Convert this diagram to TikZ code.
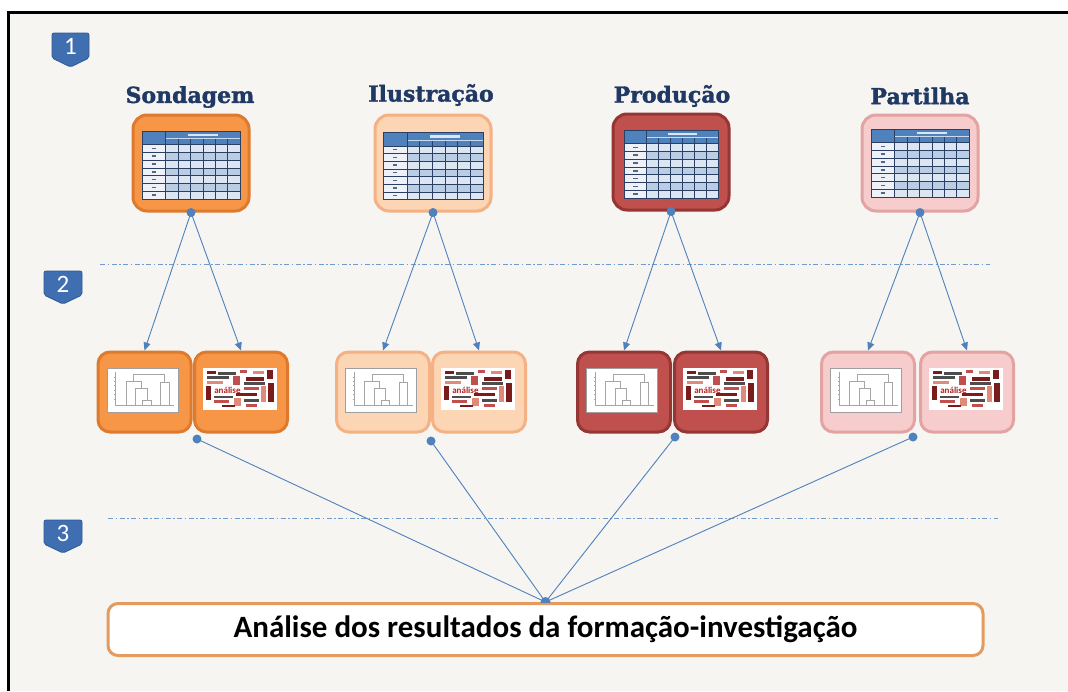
\documentclass[tikz,border=0pt]{standalone}
\usepackage{fontspec}
\setmainfont{Carlito}
\newfontfamily\titlefont{DejaVu Serif}[BoldFeatures={FakeBold=1.6}]
\usetikzlibrary{arrows.meta,shapes.geometric}
\definecolor{bgc}{HTML}{F6F5F1}
\definecolor{lineblue}{HTML}{4F81BD}
\definecolor{badgeblue}{HTML}{3F6FB1}
\definecolor{badgeedge}{HTML}{2E5A94}
\definecolor{titlec}{HTML}{1F3864}
\definecolor{sFill}{HTML}{F79646}\definecolor{sDraw}{HTML}{DE7A2E}
\definecolor{iFill}{HTML}{FCD5B5}\definecolor{iDraw}{HTML}{F4B183}
\definecolor{pFill}{HTML}{C0504D}\definecolor{pDraw}{HTML}{943634}
\definecolor{paFill}{HTML}{F6CDCC}\definecolor{paDraw}{HTML}{E2A3A2}
\definecolor{finalDraw}{HTML}{E59B5E}
\definecolor{hdrblue}{HTML}{4F81BD}
\definecolor{rowA}{HTML}{DCE6F2}
\definecolor{rowB}{HTML}{B9CDE5}
\definecolor{colA}{HTML}{EEF2F8}
\definecolor{gridc}{HTML}{2B3F63}
\definecolor{wcA}{HTML}{7B1C1C}
\definecolor{wcB}{HTML}{4D4D4D}
\definecolor{wcC}{HTML}{C0504D}
\definecolor{wcD}{HTML}{E08A7A}
\definecolor{wcE}{HTML}{B22222}

\newcommand\tabimg[4]{%
\begin{scope}[shift={({#1-#3/2},{#2-#4/2})}]
\pgfmathsetmacro\tw{#3}\pgfmathsetmacro\th{#4}%
\pgfmathsetmacro\hA{0.11*\th}\pgfmathsetmacro\hB{0.09*\th}%
\pgfmathsetmacro\rh{(\th-\hA-\hB)/7}%
\pgfmathsetmacro\cA{0.24*\tw}\pgfmathsetmacro\cw{(\tw-\cA)/6}%
\fill[white] (0,0) rectangle (\tw,\th);
\fill[hdrblue] (0,0) rectangle (\tw,\hA+\hB);
\foreach \r in {0,...,6}{%
  \pgfmathsetmacro\yy{\hA+\hB+\r*\rh}%
  \pgfmathtruncatemacro\odd{mod(\r,2)}%
  \ifnum\odd=0 \fill[rowA] (\cA,\yy) rectangle (\tw,\yy+\rh);\else\fill[rowB] (\cA,\yy) rectangle (\tw,\yy+\rh);\fi
  \fill[colA] (0,\yy) rectangle (\cA,\yy+\rh);
  \fill[gridc!80] ({\cA*0.42},{\yy+\rh*0.4}) rectangle ({\cA*0.6},{\yy+\rh*0.6});
  \draw[gridc,line width=0.4pt] (0,\yy) -- (\tw,\yy);
}
\foreach \c in {1,...,5}{\draw[gridc,line width=0.4pt] ({\cA+\c*\cw},\hA) -- ({\cA+\c*\cw},\th);}
\draw[white!70!hdrblue,line width=0.4pt] (\cA,\hA) -- (\tw,\hA);
\fill[white!80!hdrblue] ({\cA+0.3*(\tw-\cA)},{0.4*\hA}) rectangle ({\cA+0.7*(\tw-\cA)},{0.7*\hA});
\draw[gridc,line width=0.5pt] (\cA,0) -- (\cA,\th);
\draw[gridc,line width=0.6pt] (0,0) rectangle (\tw,\th);
\end{scope}}

\newcommand\dendimg[4]{%
\begin{scope}[shift={({#1-#3/2},{#2-#4/2})}]
\pgfmathsetmacro\dw{#3}\pgfmathsetmacro\dh{#4}%
\fill[white] (0,0) rectangle (\dw,\dh);
\draw[gray!75,line width=1pt] (0,0) rectangle (\dw,\dh);
\begin{scope}[gray!70,line width=0.5pt]
\draw ({0.12*\dw},{0.08*\dh}) -- ({0.12*\dw},{0.85*\dh}) -- ({0.95*\dw},{0.85*\dh});
\draw ({0.50*\dw},{0.85*\dh}) -- ({0.50*\dw},{0.74*\dh}) -- ({0.62*\dw},{0.74*\dh}) -- ({0.62*\dw},{0.85*\dh});
\draw ({0.40*\dw},{0.85*\dh}) -- ({0.40*\dw},{0.45*\dh}) -- ({0.56*\dw},{0.45*\dh}) -- ({0.56*\dw},{0.74*\dh});
\draw ({0.27*\dw},{0.85*\dh}) -- ({0.27*\dw},{0.30*\dh}) -- ({0.48*\dw},{0.30*\dh}) -- ({0.48*\dw},{0.45*\dh});
\draw ({0.75*\dw},{0.85*\dh}) -- ({0.75*\dw},{0.32*\dh}) -- ({0.87*\dw},{0.32*\dh}) -- ({0.87*\dw},{0.85*\dh});
\draw ({0.37*\dw},{0.30*\dh}) -- ({0.37*\dw},{0.14*\dh}) -- ({0.81*\dw},{0.14*\dh}) -- ({0.81*\dw},{0.32*\dh});
\foreach \t in {0.2,0.3,0.4,0.5,0.6,0.7}{\draw ({0.10*\dw},{\t*\dh}) -- ({0.12*\dw},{\t*\dh});}
\end{scope}
\end{scope}}

\newcommand\wordimg[4]{%
\begin{scope}[shift={({#1-#3/2},{#2-#4/2})}]
\pgfmathsetmacro\ww{#3}\pgfmathsetmacro\wh{#4}%
\fill[white] (0,0) rectangle (\ww,\wh);
\foreach \a/\b/\c/\d/\col in {0.05/0.08/0.12/0.07/wcA,0.20/0.10/0.25/0.06/wcB,0.50/0.05/0.10/0.07/wcC,0.68/0.08/0.14/0.06/wcD,0.87/0.05/0.07/0.22/wcA,0.05/0.20/0.30/0.07/wcB,0.40/0.18/0.10/0.22/wcC,0.58/0.22/0.25/0.08/wcA,0.05/0.31/0.22/0.06/wcD,0.56/0.34/0.28/0.07/wcB,0.04/0.42/0.07/0.35/wcA,0.55/0.46/0.20/0.06/wcC,0.78/0.42/0.07/0.40/wcD,0.88/0.35/0.08/0.45/wcA,0.15/0.66/0.25/0.06/wcB,0.45/0.60/0.28/0.07/wcA,0.15/0.77/0.20/0.06/wcC,0.42/0.72/0.10/0.18/wcD,0.55/0.74/0.20/0.06/wcB,0.25/0.87/0.18/0.06/wcA,0.58/0.85/0.15/0.07/wcC}
  {\fill[\col] ({\a*\ww},{\b*\wh}) rectangle ({(\a+\c)*\ww},{(\b+\d)*\wh});}
\node[text=wcE,font=\bfseries\fontsize{9}{9}\selectfont,inner sep=0] at ({0.33*\ww},{0.53*\wh}) {análise};
\end{scope}}

\begin{document}
\begin{tikzpicture}[x=1pt,y=-1pt,
  card/.style={rounded corners=14pt,line width=3pt,minimum width=116pt,minimum height=96pt,inner sep=0pt},
  small/.style={rounded corners=12pt,line width=3pt,minimum width=93pt,minimum height=80pt,inner sep=0pt},
  sC/.style={fill=sFill,draw=sDraw},
  iC/.style={fill=iFill,draw=iDraw},
  pC/.style={fill=pFill,draw=pDraw},
  paC/.style={fill=paFill,draw=paDraw},
  dot/.style={circle,fill=lineblue,inner sep=0pt,minimum size=9pt},
  arr/.style={draw=lineblue,line width=0.9pt,-{Triangle[width=7pt,length=8pt]}},
  conn/.style={draw=lineblue,line width=0.9pt},
  sep/.style={draw=lineblue!80,line width=0.8pt,dash pattern=on 5pt off 2.5pt on 1.5pt off 2.5pt},
  title/.style={font=\titlefont\bfseries\fontsize{22}{24}\selectfont,text=titlec},
  badge/.style={fill=badgeblue,draw=badgeedge,line width=0.8pt,rounded corners=2pt},
  badgenum/.style={text=white,font=\fontsize{25}{25}\selectfont,inner sep=0pt},
  finalbox/.style={rounded corners=10pt,draw=finalDraw,line width=3pt,fill=white,minimum width=875pt,minimum height=52pt,inner sep=0pt,font=\bfseries\fontsize{31}{31}\selectfont}
]
\useasboundingbox (0,0) rectangle (1068,691);
\fill[white] (0,0) rectangle (1068,691);
\fill[bgc] (9,12) rectangle (1068,691);
\draw[black,line width=3pt] (8.5,691) -- (8.5,12) -- (1068,12);

% badges
\draw[badge] (52,33) -- (89,33) -- (89,58) -- (70.5,67) -- (52,58) -- cycle;
\node[badgenum] (b1) at (70.5,46) {1};
\draw[badge] (44,271) -- (82,271) -- (82,295) -- (63,304) -- (44,295) -- cycle;
\node[badgenum] (b2) at (63,284) {2};
\draw[badge] (44,520) -- (82,520) -- (82,544) -- (63,553) -- (44,544) -- cycle;
\node[badgenum] (b3) at (63,533) {3};

% separators
\coordinate (sepAl) at (100,264); \coordinate (sepAr) at (990,264);
\coordinate (sepBl) at (108,518); \coordinate (sepBr) at (998,518);
\draw[sep] (sepAl) -- (sepAr);
\draw[sep] (sepBl) -- (sepBr);

% titles
\node[title] (tS) at (190,97) {Sondagem};
\node[title] (tI) at (431,95) {Ilustração};
\node[title] (tP) at (672,96) {Produção};
\node[title] (tPa) at (920,96) {Partilha};

% top cards
\node[card,sC] (cS) at (191,163) {};
\node[card,iC] (cI) at (433,163) {};
\node[card,pC] (cP) at (671,162) {};
\node[card,paC] (cPa) at (920,163) {};
\tabimg{191}{165}{98}{68}
\tabimg{433}{166}{100}{67}
\tabimg{671}{164}{94}{68}
\tabimg{920}{163}{98}{68}

% second row
\node[small,sC] (sS1) at (144.5,392) {};
\node[small,sC] (sS2) at (241,392) {};
\node[small,iC] (sI1) at (383,392) {};
\node[small,iC] (sI2) at (479,392) {};
\node[small,pC] (sP1) at (624,392) {};
\node[small,pC] (sP2) at (721,392) {};
\node[small,paC] (sPa1) at (868,392) {};
\node[small,paC] (sPa2) at (967,392) {};
\dendimg{142.5}{390}{71}{44}
\wordimg{240}{389}{74}{42}
\dendimg{381}{390}{71}{44}
\wordimg{478}{389}{74}{42}
\dendimg{622}{390}{71}{44}
\wordimg{720}{389}{74}{42}
\dendimg{866}{390}{71}{44}
\wordimg{966}{389}{74}{42}

% dots
\node[dot] (dS) at (cS.south) {};
\node[dot] (dI) at (cI.south) {};
\node[dot] (dP) at (cP.south) {};
\node[dot] (dPa) at (cPa.south) {};
\node[dot] (eS) at (197,439) {};
\node[dot] (eI) at (431,441) {};
\node[dot] (eP) at (675,437) {};
\node[dot] (ePa) at (913,437) {};

% arrows
\draw[arr] (dS.center) -- (sS1.north);
\draw[arr] (dS.center) -- (sS2.north);
\draw[arr] (dI.center) -- (sI1.north);
\draw[arr] (dI.center) -- (sI2.north);
\draw[arr] (dP.center) -- (sP1.north);
\draw[arr] (dP.center) -- (sP2.north);
\draw[arr] (dPa.center) -- (sPa1.north);
\draw[arr] (dPa.center) -- (sPa2.north);

% final box
\node[finalbox] (final) at (545.5,629.5) {Análise dos resultados da formação-investigação};
\draw[conn] (eS.center) -- (final.north);
\draw[conn] (eI.center) -- (final.north);
\draw[conn] (eP.center) -- (final.north);
\draw[conn] (ePa.center) -- (final.north);
\begin{scope}
\clip ([xshift=-8pt]final.north) rectangle ([xshift=8pt,yshift=8pt]final.north);
\fill[lineblue] (final.north) circle[radius=5pt];
\end{scope}
\end{tikzpicture}
\end{document}
